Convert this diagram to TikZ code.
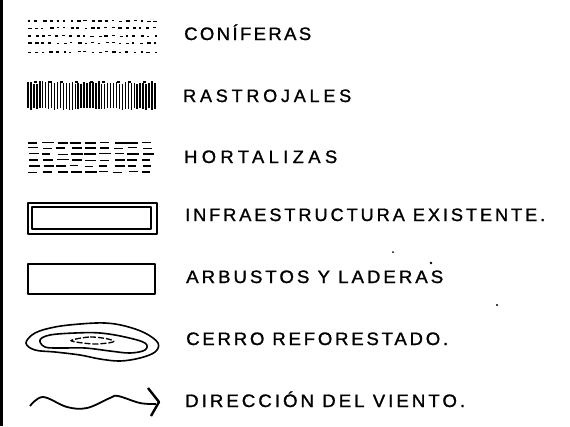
\documentclass[tikz,border=0pt]{standalone}
\usepackage{fontspec}
\newfontfamily\labfont{Liberation Sans}[FakeBold=1.2]
\newcommand{\lsp}[1]{\addfontfeature{LetterSpace=#1}}
\begin{document}
\begin{tikzpicture}[x=1pt,y=-1pt,
  ink/.style={line width=1.6pt, black, line join=round},
  lab/.style={anchor=base west, inner sep=0pt, font=\labfont\fontsize{18}{20}\selectfont}]
\useasboundingbox (0,0) rectangle (570,426);
\fill[white] (0,0) rectangle (570,426);
% left border
\draw[line width=2.2pt] (1.5,0) -- (1.5,426);

% CONIFERAS pattern
\pgfmathsetseed{7}
\foreach \yy in {21,28,36,43,52}{
  \foreach \i in {0,...,18}{
    \pgfmathsetmacro\xx{28+\i*7+rand*1.2}
    \pgfmathsetmacro\ll{2+rnd*1.8}
    \pgfmathsetmacro\yo{\yy+rand*0.6}
    \draw[line width=1.6pt] (\xx,\yo) -- ++(\ll,0);
  }
}

% RASTROJALES pattern
\foreach \i in {0,...,43}{
  \pgfmathsetmacro\xx{28+\i*2.95}
  \pgfmathsetmacro\ta{81+rnd*3}
  \pgfmathsetmacro\tb{110-rnd*2.5}
  \draw[line width=1.4pt] (\xx,\ta) -- (\xx,\tb);
}
\foreach \i in {2,7,11,16,21,25,30,34,39}{
  \pgfmathsetmacro\xx{28+\i*2.95}
  \draw[line width=1.2pt] (\xx,82) -- ++(3,0);
}

% HORTALIZAS pattern
\foreach \yy in {143,148,154,160,166,172}{
  \foreach \i in {0,...,8}{
    \pgfmathsetmacro\xx{28+\i*14.3+rand*1.5}
    \pgfmathsetmacro\ll{8+rnd*4}
    \pgfmathsetmacro\yo{\yy+rand*0.5}
    \draw[line width=1.6pt] (\xx,\yo) -- ++(\ll,0);
  }
}

% INFRAESTRUCTURA EXISTENTE
\draw[ink] (28,203) rectangle (157,234);
\draw[ink] (32,207) rectangle (151,229);

% ARBUSTOS Y LADERAS
\draw[ink] (28,264) rectangle (155,294);

% CERRO REFORESTADO
\draw[ink] plot[smooth cycle, tension=0.6] coordinates {(26,343) (35,333) (55,327) (80,324) (105,323) (125,326) (145,333) (158,343) (155,352) (140,358) (120,361) (100,359) (80,355) (55,352) (35,350)};
\draw[ink] plot[smooth cycle, tension=0.6] coordinates {(40,340) (50,335) (75,333) (100,333) (125,337) (145,343) (145,350) (130,353) (110,351) (85,348) (60,348) (45,347)};
\draw[line width=1.3pt, dash pattern=on 6pt off 2pt] plot[smooth cycle, tension=0.6] coordinates {(72,340) (90,337) (108,339) (113,342) (95,344) (76,342)};

% DIRECCION DEL VIENTO
\draw[ink, line width=1.8pt] plot[smooth, tension=0.6] coordinates {(30,406) (43,397) (67,407) (87,408) (110,398) (118,396) (140,403) (156,404)};
\draw[ink, line width=2.4pt] (148,388) -- (159,402) -- (151,416);

% stray marks
\fill (393,252) circle (1pt);
\fill (497,305) circle (1.2pt);
\fill (431,263) circle (1.3pt);

% labels
\node[lab] (l1) at (184,40) {\resizebox{127pt}{\height}{\lsp{13}CONÍFERAS}};
\node[lab] (l2) at (183,102) {\resizebox{168pt}{\height}{\lsp{21}RASTROJALES}};
\node[lab] (l3) at (184,163) {\resizebox{153pt}{\height}{\lsp{24}HORTALIZAS}};
\node[lab] (l4) at (185,221) {\resizebox{360pt}{\height}{\lsp{16}INFRAESTRUCTURA EXISTENTE.}};
\node[lab] (l5) at (186,283) {\resizebox{257pt}{\height}{\lsp{16}ARBUSTOS Y LADERAS}};
\node[lab] (l6) at (186,345) {\resizebox{262pt}{\height}{\lsp{15}CERRO REFORESTADO.}};
\node[lab] (l7) at (185,407) {\resizebox{280pt}{\height}{\lsp{16}DIRECCIÓN DEL VIENTO.}};
\end{tikzpicture}
\end{document}
